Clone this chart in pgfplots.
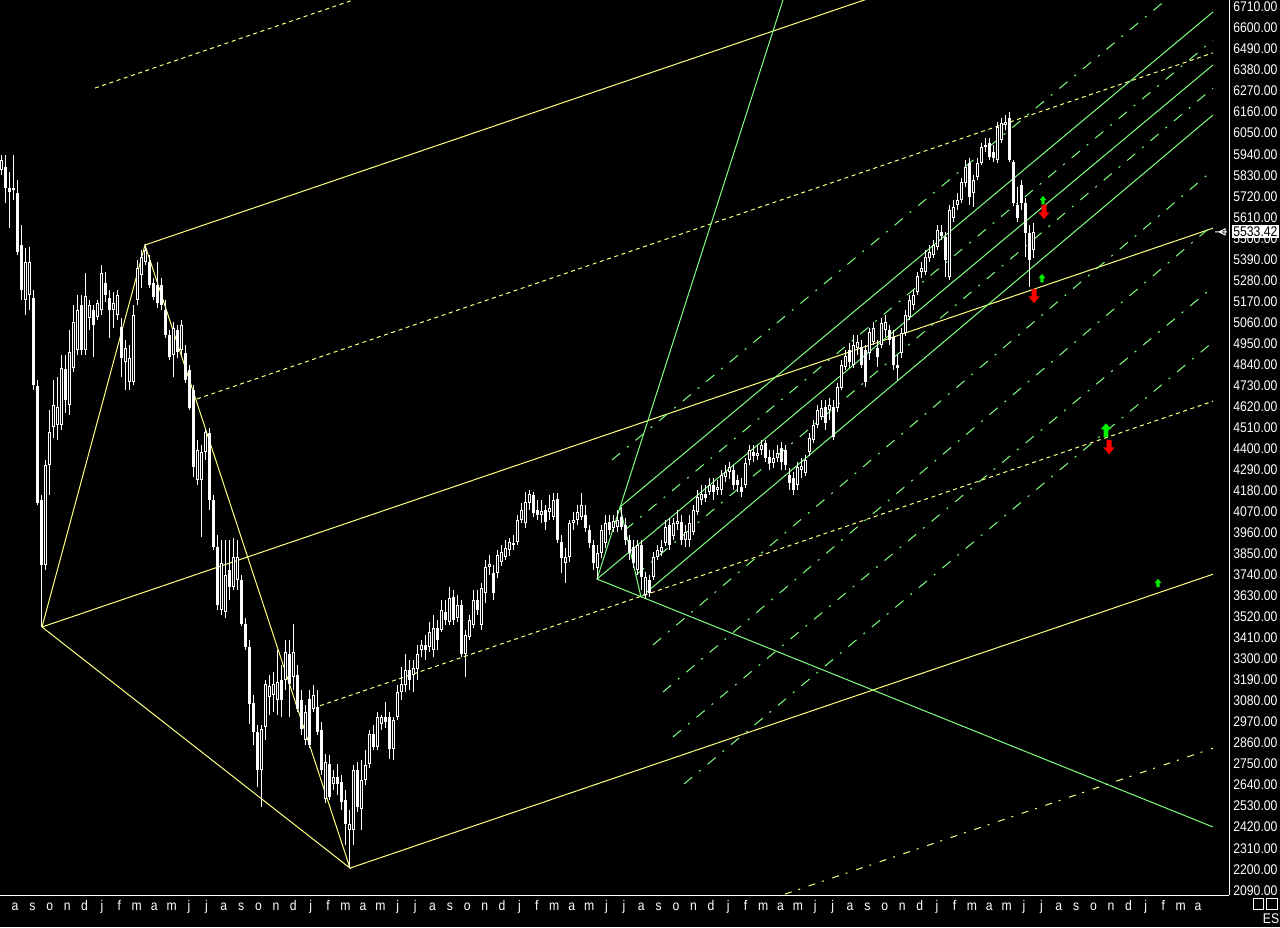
\documentclass[border=0pt]{standalone}
\usepackage{fontspec}
\setmainfont{Liberation Sans}[FakeStretch=0.87]
\usepackage{pgfplots}
\usepackage{pgfplotstable}
\pgfplotsset{compat=1.18}
\definecolor{cyel}{RGB}{255,255,128}
\definecolor{cgrn}{RGB}{128,255,128}
\definecolor{agrn}{RGB}{0,240,0}
\definecolor{ared}{RGB}{255,0,0}

\pgfdeclareplotmark{upS}{%
  \pgfpathmoveto{\pgfpoint{-0.8pt}{-2.1pt}}
  \pgfpathlineto{\pgfpoint{0.8pt}{-2.1pt}}
  \pgfpathlineto{\pgfpoint{0.8pt}{0pt}}
  \pgfpathlineto{\pgfpoint{1.75pt}{0pt}}
  \pgfpathlineto{\pgfpoint{0pt}{2.1pt}}
  \pgfpathlineto{\pgfpoint{-1.75pt}{0pt}}
  \pgfpathlineto{\pgfpoint{-0.8pt}{0pt}}
  \pgfpathclose\pgfusepathqfill}
\pgfdeclareplotmark{upL}{%
  \pgfpathmoveto{\pgfpoint{-1.2pt}{-3.4pt}}
  \pgfpathlineto{\pgfpoint{1.2pt}{-3.4pt}}
  \pgfpathlineto{\pgfpoint{1.2pt}{0.4pt}}
  \pgfpathlineto{\pgfpoint{2.7pt}{0.4pt}}
  \pgfpathlineto{\pgfpoint{0pt}{3.4pt}}
  \pgfpathlineto{\pgfpoint{-2.7pt}{0.4pt}}
  \pgfpathlineto{\pgfpoint{-1.2pt}{0.4pt}}
  \pgfpathclose\pgfusepathqfill}
\pgfdeclareplotmark{dnL}{%
  \pgfpathmoveto{\pgfpoint{-1.25pt}{3.6pt}}
  \pgfpathlineto{\pgfpoint{1.25pt}{3.6pt}}
  \pgfpathlineto{\pgfpoint{1.25pt}{-0.2pt}}
  \pgfpathlineto{\pgfpoint{2.8pt}{-0.2pt}}
  \pgfpathlineto{\pgfpoint{0pt}{-3.6pt}}
  \pgfpathlineto{\pgfpoint{-2.8pt}{-0.2pt}}
  \pgfpathlineto{\pgfpoint{-1.25pt}{-0.2pt}}
  \pgfpathclose\pgfusepathqfill}
\pgfdeclareplotmark{ptr}{%
  \pgfsetlinewidth{0.5pt}
  \pgfpathmoveto{\pgfpoint{-3pt}{0pt}}
  \pgfpathlineto{\pgfpoint{3pt}{0pt}}
  \pgfpathmoveto{\pgfpoint{-1pt}{0pt}}
  \pgfpathlineto{\pgfpoint{2pt}{1.5pt}}
  \pgfpathlineto{\pgfpoint{2pt}{-1.5pt}}
  \pgfpathclose\pgfusepathqstroke}

\pgfplotstableread{
x o h l c
1 5857 5936 5831 5910
5 5873 5936 5685 5763
9 5763 5847 5554 5742
13 5753 5936 5700 5763
17 5737 5805 5413 5429
21 5465 5570 5177 5230
25 5177 5449 5099 5377
29 5204 5454 5125 5377
33 5188 5230 4707 4733
37 4728 4759 4105 4115
41 4131 4158 3467 3791
45 3791 4341 3765 4315
49 4315 4602 4158 4488
53 4513 4759 4456 4628
57 4524 4774 4445 4617
61 4524 4890 4498 4822
65 4817 4890 4586 4654
69 4628 5021 4576 4906
73 4822 5151 4801 5063
77 4916 5204 4890 5125
81 5151 5204 4890 4916
85 4916 5318 4890 5199
89 5083 5177 5021 5151
93 5125 5151 4879 5047
97 5088 5177 5073 5161
101 5125 5361 5099 5318
105 5266 5324 5167 5204
109 5188 5230 4979 5125
113 5125 5220 5031 5161
117 5099 5230 5073 5204
121 5037 5083 4774 4874
125 4854 4968 4707 4926
129 4749 4942 4707 4874
133 4749 5151 4733 5099
137 5177 5387 5151 5345
141 5308 5439 5240 5402
145 5377 5470 5361 5439
149 5377 5413 5240 5256
153 5266 5292 5177 5193
157 5256 5377 5135 5161
161 5256 5292 5125 5151
165 5125 5177 4978 4995
169 4995 5021 4864 4879
173 4890 5063 4774 5031
177 5021 5047 4874 4906
181 4916 5073 4890 5047
185 4900 4942 4743 4759
189 4811 4838 4602 4612
193 4707 4733 4252 4304
197 4236 4445 4210 4393
201 4236 4419 3938 4382
205 4382 4508 4341 4488
209 4482 4508 4079 4131
213 4131 4158 3870 3886
217 3886 3948 3556 3582
221 3556 3922 3530 3802
225 3546 3922 3514 3739
229 3765 3922 3608 3676
233 3676 3932 3661 3833
237 3713 3922 3661 3833
241 3713 3739 3473 3483
245 3483 3514 3347 3363
249 3363 3399 2960 3064
253 3070 3111 2850 2918
257 2918 2955 2630 2719
261 2719 2955 2525 2934
265 2944 3190 2876 3169
269 3101 3216 3007 3159
273 3111 3232 3023 3169
277 3085 3347 3007 3180
281 3190 3268 2997 3085
285 3190 3399 3138 3336
289 3326 3399 2997 3169
293 3206 3483 3138 3336
297 3216 3268 3023 3038
301 3085 3138 2902 2934
305 2876 3059 2850 3023
309 3090 3138 2834 2850
313 3038 3164 3023 3111
317 3049 3138 2902 2918
321 2928 2970 2693 2719
325 2567 2803 2546 2761
329 2751 2798 2562 2578
333 2646 2719 2615 2683
337 2683 2751 2588 2646
341 2656 2693 2510 2552
345 2562 2615 2327 2437
349 2405 2510 2206 2437
353 2405 2745 2327 2719
357 2719 2761 2499 2525
361 2515 2771 2405 2667
365 2667 2824 2641 2745
369 2751 2928 2730 2907
373 2907 2955 2824 2839
377 2839 3023 2824 2997
381 2960 3007 2928 2997
385 2997 3075 2939 2970
389 2997 3023 2777 2829
393 2829 2997 2771 2981
397 2997 3164 2981 3127
401 3127 3258 3085 3169
405 3164 3326 3127 3242
409 3242 3294 3138 3190
413 3216 3294 3127 3253
417 3247 3373 3190 3326
421 3347 3399 3310 3373
425 3373 3425 3294 3347
429 3363 3493 3336 3441
433 3347 3530 3310 3462
437 3462 3504 3347 3399
441 3451 3608 3441 3556
445 3546 3608 3478 3504
449 3493 3676 3478 3619
453 3624 3661 3478 3504
457 3514 3634 3493 3582
461 3582 3608 3310 3326
465 3326 3451 3206 3425
469 3415 3530 3399 3504
473 3478 3661 3462 3608
477 3608 3661 3530 3556
481 3478 3697 3451 3671
485 3645 3818 3593 3781
489 3781 3844 3739 3797
493 3750 3791 3608 3645
497 3750 3870 3723 3844
501 3807 3896 3786 3859
505 3833 3922 3818 3880
509 3870 3932 3839 3912
513 3906 3948 3870 3896
517 3912 4053 3896 4027
521 4027 4115 4011 4079
525 4011 4174 3985 4121
529 4115 4184 4079 4163
533 4158 4174 4043 4063
537 4079 4131 4027 4053
541 4053 4131 4011 4074
545 4079 4105 3974 4016
549 4069 4158 4027 4090
553 4043 4168 4027 4131
557 4137 4168 3906 3922
561 3912 3948 3750 3828
565 3802 3880 3697 3833
569 3833 4027 3807 4011
573 4011 4069 3974 4027
577 4027 4105 4001 4069
581 4043 4168 4027 4105
585 4053 4105 3964 3985
589 3974 4001 3880 3906
593 3896 3922 3765 3802
597 3776 3896 3718 3854
601 3854 4001 3828 3974
605 3906 4053 3880 4011
609 4016 4053 3948 3974
613 3985 4053 3964 4022
617 3990 4079 3964 4027
621 4043 4095 3974 3990
625 4001 4037 3896 3922
629 3922 3948 3818 3854
633 3886 3922 3776 3802
637 3765 3922 3739 3896
641 3896 3922 3661 3729
645 3634 3755 3619 3729
649 3713 3739 3624 3645
653 3729 3859 3713 3833
657 3833 3896 3818 3870
661 3859 3922 3839 3886
665 3906 4027 3891 3990
669 4001 4037 3870 3896
673 3943 4037 3922 4011
677 4006 4079 3974 4022
681 4016 4053 3896 3922
685 3922 4001 3886 3964
689 3922 4053 3886 4011
693 3964 4105 3948 4079
697 4069 4184 4053 4147
701 4131 4210 4105 4163
705 4163 4210 4121 4142
709 4174 4246 4158 4210
713 4210 4246 4131 4174
717 4184 4236 4158 4200
721 4184 4288 4158 4262
725 4252 4315 4226 4278
729 4278 4330 4241 4304
733 4288 4315 4184 4210
737 4236 4262 4174 4210
741 4200 4246 4147 4174
745 4210 4351 4194 4325
749 4341 4419 4315 4393
753 4382 4419 4330 4361
757 4361 4419 4341 4377
761 4393 4445 4367 4419
765 4430 4445 4330 4351
769 4356 4393 4288 4325
773 4325 4393 4299 4351
777 4351 4419 4330 4377
781 4403 4435 4288 4330
785 4393 4419 4288 4315
789 4262 4299 4184 4220
793 4246 4278 4158 4184
797 4210 4330 4184 4304
801 4288 4351 4246 4309
805 4273 4367 4257 4341
809 4382 4482 4361 4456
813 4445 4550 4430 4524
817 4524 4628 4508 4602
821 4565 4654 4550 4612
825 4617 4654 4498 4534
829 4602 4665 4550 4628
833 4617 4654 4445 4461
837 4612 4743 4591 4722
841 4717 4864 4707 4838
845 4827 4916 4811 4885
849 4916 4953 4822 4854
853 4838 4995 4822 4942
857 4926 4995 4890 4958
861 4932 4968 4822 4838
865 4916 4942 4722 4749
869 4900 5031 4864 5010
873 4958 5063 4942 5031
877 4926 4968 4827 4879
881 4942 5083 4926 5057
885 5021 5099 4984 5063
889 5021 5047 4942 4968
893 4984 5021 4811 4838
897 4838 4890 4759 4822
901 4900 5031 4874 5005
905 5005 5125 4990 5099
909 5088 5204 5073 5177
913 5151 5230 5125 5204
917 5220 5324 5204 5303
921 5324 5377 5292 5345
925 5324 5439 5308 5402
929 5397 5465 5377 5429
933 5413 5491 5397 5465
937 5454 5570 5439 5544
941 5533 5570 5491 5512
945 5507 5533 5298 5387
949 5298 5674 5282 5648
953 5606 5700 5586 5664
957 5674 5737 5648 5700
961 5700 5816 5685 5795
965 5790 5910 5769 5873
969 5894 5920 5674 5716
973 5737 5831 5664 5805
977 5821 5920 5805 5894
981 5894 5999 5884 5978
985 5978 6025 5952 5988
989 5999 6025 5910 5926
993 5952 5988 5899 5920
997 5910 6108 5894 6082
1001 6014 6129 5999 6103
1005 6093 6145 6067 6108
1009 6129 6160 5899 5910
1013 5899 5910 5669 5685
1017 5674 5769 5586 5606
1021 5779 5805 5648 5685
1025 5685 5711 5402 5528
1029 5528 5570 5246 5387
1033 5439 5580 5397 5533.42
}\candles

\begin{document}
\begin{tikzpicture}[x=0.5pt,y=0.5pt]
\fill[black] (0,0) rectangle (1280,927);
\path[use as bounding box] (0,0) rectangle (1280,927);
\begin{axis}[
  at={(0pt,16pt)}, anchor=south west,
  width=614.5pt, height=447.5pt, scale only axis,
  xmin=0, xmax=1229, ymin=2065.2, ymax=6746.6,
  axis x line*=bottom, axis y line*=right,
  axis line style={white, line width=0.5pt},
  major tick length=0pt,
  ytick={2090,2200,...,6710},
  yticklabel style={text=white, anchor=west, inner sep=0.75pt, xshift=1.25pt,
    font=\fontsize{7}{8}\selectfont,
    /pgf/number format/fixed, /pgf/number format/fixed zerofill,
    /pgf/number format/precision=2, /pgf/number format/1000 sep={},
    /pgf/number format/assume math mode=true},
  extra y ticks={5533.42},
  extra y tick style={yticklabel style={fill=white, text=black}},
  xtick={15,32.397,...,1200},
  xticklabels={a,s,o,n,d,
    j,f,m,a,m,j,j,a,s,o,n,d,
    j,f,m,a,m,j,j,a,s,o,n,d,
    j,f,m,a,m,j,j,a,s,o,n,d,
    j,f,m,a,m,j,j,a,s,o,n,d,
    j,f,m,a,m,j,j,a,s,o,n,d,
    j,f,m,a},
  xticklabel style={text=white, anchor=base, yshift=-7.5pt, font=\fontsize{7}{8}\selectfont},
]
% ---- yellow pitchfork ----
\addplot[cyel, line width=0.5pt] coordinates {(42,3467) (145,5465) (350,2206) (42,3467)};
\addplot[cyel, line width=0.5pt] coordinates {(42,3467) (1213,5553)};
\addplot[cyel, line width=0.5pt] coordinates {(145,5465) (1213,7368)};
\addplot[cyel, line width=0.5pt] coordinates {(350,2206) (1213,3743)};
\addplot[cyel, line width=0.5pt, dash pattern=on 2pt off 1.8pt] coordinates {(95,6286) (400,6830)};
\addplot[cyel, line width=0.5pt, dash pattern=on 2pt off 1.8pt] coordinates {(197,4660) (1213,6470)};
\addplot[cyel, line width=0.5pt, dash pattern=on 2pt off 1.8pt] coordinates {(320,3055) (1213,4648)};
\addplot[cyel, line width=0.5pt, dash pattern=on 3.5pt off 3.5pt on 1pt off 4.5pt] coordinates {(785,2070) (1213,2833)};
% ---- green pitchfork ----
\addplot[cgrn, line width=0.5pt] coordinates {(783,6747) (597,3718) (1213,2421)};
\addplot[cgrn, line width=0.5pt] coordinates {(620,4095) (641,3624)};
\addplot[cgrn, line width=0.5pt] coordinates {(620,4095) (1213,6684)};
\addplot[cgrn, line width=0.5pt] coordinates {(597,3718) (1213,6407)};
\addplot[cgrn, line width=0.5pt] coordinates {(641,3624) (1213,6145)};
\pgfplotsset{gdash/.style={cgrn, line width=0.5pt, dash pattern=on 5.3pt off 4.5pt on 1pt off 4.5pt}}
\addplot[gdash] coordinates {(612,4341) (1213,6951)};
\addplot[gdash] coordinates {(625,3974) (1213,6537)};
\addplot[gdash] coordinates {(636,3739) (1213,6286)};
\addplot[gdash] coordinates {(653,3373) (1213,5857)};
\addplot[gdash] coordinates {(663,3127) (1213,5570)};
\addplot[gdash] coordinates {(673,2892) (1213,5246)};
\addplot[gdash] coordinates {(684,2646) (1213,4958)};
% ---- candles: wicks, bodies, hollow insides of rising weeks ----
\addplot[draw=none, mark=none, forget plot,
  error bars/.cd, y dir=plus, y explicit, error mark=none,
  error bar style={draw=white, line width=0.5pt, solid}]
  table[x=x, y=l, y error expr=\thisrow{h}-\thisrow{l}] {\candles};
\addplot[draw=none, mark=none, forget plot,
  error bars/.cd, y dir=plus, y explicit, error mark=none,
  error bar style={draw=white, line width=1.5pt, solid}]
  table[x=x, y expr={min(\thisrow{o},\thisrow{c})},
        y error expr={max(abs(\thisrow{c}-\thisrow{o}),5.2)}] {\candles};
\addplot[draw=none, mark=none, forget plot,
  error bars/.cd, y dir=plus, y explicit, error mark=none,
  error bar style={draw=black, line width=0.5pt, solid}]
  table[x=x, y expr={\thisrow{o}+5.2},
        y error expr={max(\thisrow{c}-\thisrow{o}-10.4,0)}] {\candles};
% ---- alert arrows ----
\addplot[agrn, only marks, mark=upS] coordinates {(1043,5700) (1042,5292) (1158,3697)};
\addplot[agrn, only marks, mark=upL] coordinates {(1106,4497)};
\addplot[ared, only marks, mark=dnL] coordinates {(1044,5638) (1034,5198) (1109,4408)};
\addplot[white, only marks, mark=ptr] coordinates {(1221,5533.42)};
\end{axis}
\draw[white, line width=0.5pt] (1253,18) rectangle (1263,29);
\draw[white, line width=0.5pt] (1266,18) rectangle (1277,29);
\node[white, anchor=base, inner sep=0pt, font=\fontsize{7}{8}\selectfont] at (1271,4) {ES};
\end{tikzpicture}
\end{document}
